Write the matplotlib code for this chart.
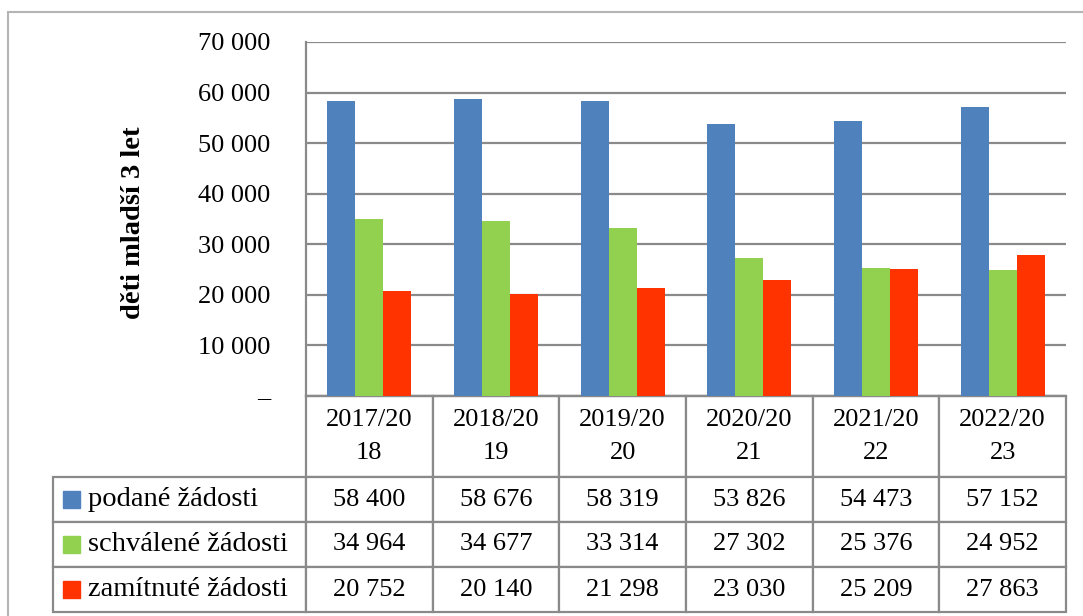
import matplotlib
matplotlib.use("Agg")
import matplotlib.pyplot as plt
import numpy as np
from matplotlib.patches import Rectangle

plt.rcParams["font.family"] = ["Liberation Serif", "DejaVu Serif"]

# data
roky = ["2017/20\n18", "2018/20\n19", "2019/20\n20", "2020/20\n21", "2021/20\n22", "2022/20\n23"]
serie = ["podané žádosti", "schválené žádosti", "zamítnuté žádosti"]
podane = [58400, 58676, 58319, 53826, 54473, 57152]
schvalene = [34964, 34677, 33314, 27302, 25376, 24952]
zamitnute = [20752, 20140, 21298, 23030, 25209, 27863]
barvy = ["#4F81BD", "#92D050", "#FF3300"]
yticks = [0, 10000, 20000, 30000, 40000, 50000, 60000, 70000]

W, H = 1083, 616
AW, AH = 760, 354  # velikost grafu v px
grid_col = "#8a8a8a"


def fmt(v):
    if v == 0:
        return "\u2013"
    return f"{v:,}".replace(",", " ")


fig = plt.figure(figsize=(W / 100, H / 100), dpi=100)
ax = fig.add_axes([306 / W, (H - 396) / H, AW / W, AH / H])

# vnejsi ramecek
fig.add_artist(Rectangle((8 / W, -0.1), 1.2, (H - 12) / H + 0.1, transform=fig.transFigure,
                         fill=False, ec="#b4b4b4", lw=1.5))

x = np.arange(len(roky))
bw = 28 / (AW / 6)
for i, (vals, c) in enumerate(zip([podane, schvalene, zamitnute], barvy)):
    ax.bar(x + (i - 1) * bw, vals, width=bw, color=c, zorder=3)

ax.set_xlim(-0.5, len(roky) - 0.5)
ax.set_ylim(0, 70000)
ax.set_yticks(yticks)
ax.set_yticklabels([fmt(v) for v in yticks], fontsize=19)
ax.tick_params(axis="y", length=0, pad=26)
ax.set_xticks([])
ax.yaxis.grid(True, color=grid_col, lw=1.6)
ax.set_axisbelow(True)
for s in ["top", "right"]:
    ax.spines[s].set_visible(False)
for s in ["left", "bottom"]:
    ax.spines[s].set_color(grid_col)
    ax.spines[s].set_linewidth(1.6)

ax.set_ylabel("děti mladší 3 let", fontsize=20.5, fontweight="bold", va="center")
ax.yaxis.set_label_coords((133 - 306) / AW, 0.49)

# tabulka s daty
hdr_h, row_h = 81 / AH, 45 / AH
lbl_w = 253 / AW
col_w = 1 / 6
cell_text = [[fmt(v) for v in row] for row in [podane, schvalene, zamitnute]]
tab = ax.table(cellText=cell_text, rowLabels=serie, colLabels=roky,
               colWidths=[col_w] * 6, cellLoc="center", rowLoc="left", loc="bottom")
# sloupec s popisky ma pevnou sirku, ne automatickou
if -1 in tab._autoColumns:
    tab._autoColumns.remove(-1)
tab.auto_set_font_size(False)
tab.set_fontsize(19)
for (r, c), cell in tab.get_celld().items():
    cell.set_edgecolor(grid_col)
    cell.set_linewidth(1.6)
    cell.set_height(hdr_h if r == 0 else row_h)
    cell.set_width(lbl_w if c == -1 else col_w)
    if r == 0:
        cell.get_text().set_linespacing(1.65)
    if c == -1:
        cell.PAD = 35 / 253
        cell.get_text().set_fontsize(20.5)

# barevne ctverecky legendy
sq = 17
for i, c in enumerate(barvy):
    yc = -(hdr_h + row_h * (i + 0.5))
    ax.add_patch(Rectangle(((63 - 306) / AW, yc - sq / 2 / AH), sq / AW, sq / AH,
                           transform=ax.transAxes, color=c, clip_on=False, zorder=5))

fig.savefig("out.png", dpi=100)
